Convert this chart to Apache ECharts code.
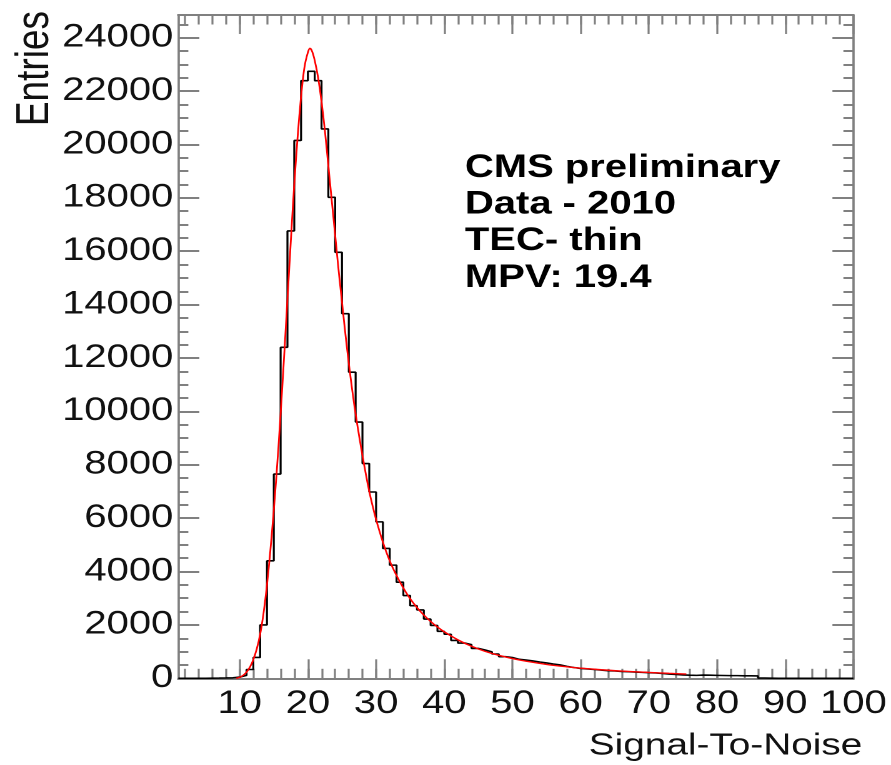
<!DOCTYPE html>
<html><head><meta charset="utf-8">
<script src="https://cdn.jsdelivr.net/npm/echarts@6/dist/echarts.min.js"></script>
<style>
html,body{margin:0;padding:0;background:#fff;overflow:hidden;}
#wrap{width:891px;height:765px;overflow:hidden;position:relative;background:#fff;}
#chart{width:713px;height:765px;transform:scaleX(1.24965);transform-origin:0 0;}
</style></head><body><div id="wrap"><div id="chart"></div></div>
<script>
// ---- data ----
const binLowEdge = 1;
const binWidth = 1;
// histogram counts, bins [1,2), [2,3), ... [99,100)
const histCounts = [
  0, 0, 0, 0, 5, 8, 12, 20, 45, 110,
  330, 780, 2000, 4400, 7650, 12400, 16760, 20150, 22390, 22740,
  22390, 20580, 18020, 15960, 13660, 11470, 9600, 8045, 6980, 5860,
  4865, 4240, 3600, 3100, 2720, 2560, 2220, 1980, 1760, 1650,
  1420, 1320, 1260, 1120, 1060, 990, 910, 810, 780, 710,
  685, 650, 610, 575, 535, 500, 445, 405, 370, 350,
  330, 310, 285, 275, 255, 245, 235, 225, 210, 200,
  180, 160, 145, 125, 115, 110, 120, 115, 110, 105,
  100, 100, 95, 95, 90, 10, 5, 0, 0, 0,
  0, 0, 0, 0, 0, 0, 0, 0, 0
];
// fitted curve
const fitX = [9.5, 10, 10.5, 11, 11.5, 12, 12.5, 13, 13.5, 14, 14.5, 15, 15.5, 16, 16.5, 17, 17.5, 18, 18.5, 19, 19.5, 20, 20.3, 20.6, 21, 21.5, 22, 22.5, 23, 23.5, 24, 24.5, 25, 25.5, 26, 26.5, 27, 27.5, 28, 28.5, 29, 29.5, 30, 31, 32, 33, 34, 35, 36, 37, 38, 39, 40, 42, 44, 46, 48, 50, 52, 55, 58, 60, 63, 66, 70, 73, 75.5];
const fitY = [0, 40, 110, 230, 420, 700, 1100, 1650, 2450, 3500, 4800, 6300, 8000, 9900, 12000, 14200, 16400, 18500, 20300, 21800, 22900, 23450, 23600, 23500, 23150, 22500, 21600, 20500, 19200, 17900, 16600, 15300, 14100, 12900, 11800, 10800, 9900, 9100, 8350, 7650, 7000, 6450, 5950, 5100, 4400, 3850, 3380, 2980, 2650, 2370, 2130, 1920, 1740, 1440, 1200, 1010, 860, 740, 640, 520, 430, 380, 320, 270, 220, 185, 160];
const xTickLabels = [10, 20, 30, 40, 50, 60, 70, 80, 90, 100];
const yTickLabels = [0, 2000, 4000, 6000, 8000, 10000, 12000, 14000, 16000, 18000, 20000, 22000, 24000];
const xRange = [1, 100];
const yRange = [0, 24850];
const xMinorStep = 2;
const yMinorStep = 500;
const infoLines = ['CMS preliminary', 'Data - 2010', 'TEC- thin', 'MPV: 19.4'];
const xTitle = 'Signal-To-Noise';
const yTitle = 'Entries';

// ---- build ----
const histData = histCounts.map((c, i) => [binLowEdge + i * binWidth, c]);
histData.push([binLowEdge + histCounts.length * binWidth, histCounts[histCounts.length - 1]]);
const fitData = fitX.map((x, i) => [x, fitY[i]]);
const xMinor = []; for (let v = xRange[0] + 1; v < xRange[1]; v += xMinorStep) xMinor.push(v);
const yMinor = []; for (let v = yMinorStep; v < yRange[1]; v += yMinorStep) yMinor.push(v);

const FONT = '"Liberation Sans", Arial, Helvetica, sans-serif';
const GREY = '#808080';
const lineX = {lineStyle: {color: GREY, width: 2}};
const lineY = {lineStyle: {color: GREY, width: 1.6}};
const plain = v => String(v);

function xAx(pos, ticks, len, labels) {
  return {
    type: 'value', position: pos, min: xRange[0], max: xRange[1],
    axisLine: Object.assign({show: true, onZero: false}, lineX),
    axisTick: {show: true, inside: true, length: len, customValues: ticks, lineStyle: {color: GREY, width: 1.6}},
    axisLabel: labels ? {show: true, customValues: xTickLabels, formatter: plain, color: '#111', fontSize: 32, fontFamily: FONT, margin: 10} : {show: false},
    splitLine: {show: false}
  };
}
function yAx(pos, ticks, len, labels) {
  return {
    type: 'value', position: pos, min: yRange[0], max: yRange[1],
    axisLine: Object.assign({show: true, onZero: false}, lineY),
    axisTick: {show: true, inside: true, length: len, customValues: ticks, lineStyle: {color: GREY, width: 2}},
    axisLabel: labels ? {show: true, customValues: yTickLabels, formatter: plain, color: '#111', fontSize: 32, fontFamily: FONT, margin: 4} : {show: false},
    splitLine: {show: false}
  };
}

const chart = echarts.init(document.getElementById('chart'), null, {devicePixelRatio: 2});
const graphics = infoLines.map((t, i) => ({
  type: 'text', x: 372, y: 168 + i * 36.7, z: 100,
  style: {text: t, fontSize: 32, fontWeight: 'bold', fontFamily: FONT, fill: '#000', align: 'left', verticalAlign: 'middle'}
}));
graphics.push({
  type: 'text', x: 690, y: 746,
  style: {text: xTitle, fontSize: 31, fontFamily: FONT, fill: '#111', align: 'right', verticalAlign: 'middle'}
});
graphics.push({
  type: 'text', x: 28.5, y: 11, rotation: Math.PI / 2,
  style: {text: yTitle, fontSize: 37, fontFamily: FONT, fill: '#111', align: 'right', verticalAlign: 'middle'}
});

chart.setOption({
  animation: false,
  backgroundColor: '#fff',
  grid: {left: 142.7, right: 30.1, top: 15, bottom: 86.7, outerBoundsMode: 'none'},
  xAxis: [
    xAx('bottom', xTickLabels, 19, true),
    xAx('bottom', xMinor, 9.5, false),
    xAx('top', xTickLabels, 19, false),
    xAx('top', xMinor, 9.5, false)
  ],
  yAxis: [
    yAx('left', yTickLabels, 16.8, true),
    yAx('left', yMinor, 8, false),
    yAx('right', yTickLabels, 16.8, false),
    yAx('right', yMinor, 8, false)
  ],
  series: [
    {type: 'line', name: 'hist', data: histData, step: 'end', symbol: 'none', xAxisIndex: 0, yAxisIndex: 0,
     lineStyle: {color: '#000', width: 1.6}, z: 3},
    {type: 'line', name: 'fit', data: fitData, smooth: 0.3, symbol: 'none', xAxisIndex: 0, yAxisIndex: 0,
     lineStyle: {color: '#ff0000', width: 1.4}, z: 4}
  ],
  graphic: graphics
});
</script></body></html>
